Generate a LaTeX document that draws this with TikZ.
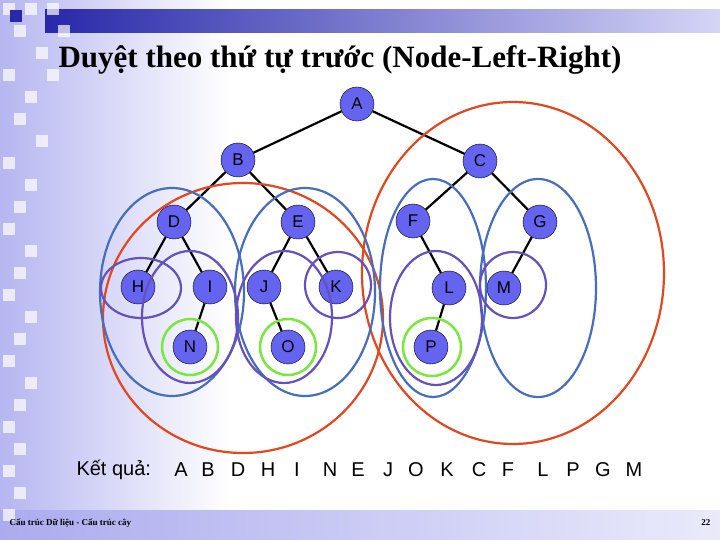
\documentclass[tikz,border=0pt]{standalone}
\usepackage{fontspec}
\setmainfont{Liberation Serif}
\newfontfamily\arialf{Liberation Sans}
\begin{document}
\begin{tikzpicture}[x=1pt,y=-1pt,
  tn/.style={circle,draw=black,fill={rgb,255:red,100;green,100;blue,240},minimum size=34pt,inner sep=0pt,font=\arialf\fontsize{17}{17}\selectfont},
  edge/.style={line width=2.2pt,black},
  redE/.style={draw={rgb,255:red,228;green,70;blue,30},line width=2.2pt},
  blueE/.style={draw={rgb,255:red,70;green,110;blue,190},line width=2.2pt},
  purE/.style={draw={rgb,255:red,100;green,80;blue,190},line width=2.2pt},
  grnE/.style={draw={rgb,255:red,120;green,232;blue,60},line width=2.5pt},
  rl/.style={font=\arialf\fontsize{20}{20}\selectfont}]
\useasboundingbox (0,0) rectangle (720,540);
\definecolor{lav}{RGB}{150,150,235}
\definecolor{dkb}{RGB}{40,40,170}
% background
\fill[white] (0,0) rectangle (720,540);
\shade[left color=lav!70,right color=white] (0,0) rectangle (230,540);
\shade[left color=lav!80,right color=lav!20] (0,510) rectangle (720,540);
\shade[left color=dkb,right color=lav!40] (45,10) rectangle (720,33);
\foreach \x/\y in {0/0,22/0,44/0,11/22,33/44,55/22,0/66,22/88,44/66,11/110,33/132,0/154,22/176,11/198,0/220,22/242,11/264,0/286,22/308,11/330,0/352,22/374,11/396,0/418,11/440,0/462,11/484,0/506}
  \fill[white,opacity=0.7] (\x+3,\y+3) rectangle ++(12,12);
\fill[dkb] (10,10) rectangle ++(12,12);
% title
\node[font=\bfseries\fontsize{31}{31}\selectfont] (title) at (340,60) {Duyệt theo thứ tự trước (Node-Left-Right)};
% nodes
\node[tn] (A) at (357,104) {A};
\node[tn] (B) at (238,160) {B};
\node[tn] (C) at (480,161) {C};
\node[tn] (D) at (174,222) {D};
\node[tn] (E) at (298,222) {E};
\node[tn] (F) at (413,221) {F};
\node[tn] (G) at (540,222) {G};
\node[tn] (H) at (138,287) {H};
\node[tn] (I) at (210,287) {I};
\node[tn] (J) at (264,287) {J};
\node[tn] (K) at (336,287) {K};
\node[tn] (L) at (449,288) {L};
\node[tn] (M) at (504,288) {M};
\node[tn] (N) at (190,347) {N};
\node[tn] (O) at (288,347) {O};
\node[tn] (P) at (431,347) {P};
\foreach \a/\b in {A/B,A/C,B/D,B/E,C/F,C/G,D/H,D/I,E/J,E/K,F/L,G/M,I/N,J/O,L/P}
  \draw[edge] (\a) -- (\b);
% ellipses
\draw[redE] (243,318) ellipse [x radius=140,y radius=135];
\draw[redE] (513,273) ellipse [x radius=151,y radius=171];
\draw[blueE] (172,292) ellipse [x radius=72,y radius=104];
\draw[blueE] (305,292) ellipse [x radius=70,y radius=104];
\draw[blueE] (433,288) ellipse [x radius=53,y radius=109];
\draw[blueE] (538,288) ellipse [x radius=58,y radius=109];
\draw[purE] (141,288) ellipse [x radius=40,y radius=30];
\draw[purE] (190,317) ellipse [x radius=48,y radius=66];
\draw[purE] (284,317) ellipse [x radius=48,y radius=66];
\draw[purE] (338,285) ellipse [x radius=33,y radius=33];
\draw[purE] (436,318) ellipse [x radius=46,y radius=67];
\draw[purE] (513,285) ellipse [x radius=33,y radius=33];
\draw[grnE] (190,347) circle (28);
\draw[grnE] (288,347) circle (28);
\draw[grnE] (432,347) circle (29);
% result
\node[rl,anchor=west] (res) at (73,470) {Kết quả:};
\foreach \t/\x [count=\i] in {A/181,B/208,D/238,H/268,I/297,N/330,E/358,J/388,O/416,K/447,C/479,F/508,L/543,P/573,G/603,M/634}
  \node[rl] (r\i) at (\x,470) {\t};
% footer
\node[anchor=west,font=\bfseries\fontsize{9}{9}\selectfont] (foot) at (6,523) {Cấu trúc Dữ liệu - Cấu trúc cây};
\node[anchor=east,font=\bfseries\fontsize{9}{9}\selectfont] (pg) at (714,523) {22};
\end{tikzpicture}
\end{document}
